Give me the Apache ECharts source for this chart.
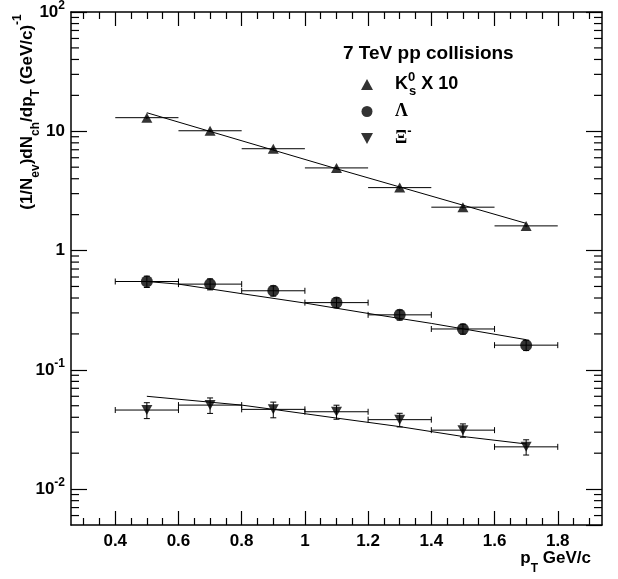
<!DOCTYPE html>
<html>
<head>
<meta charset="utf-8">
<script src="https://cdn.jsdelivr.net/npm/echarts@6/dist/echarts.min.js"></script>
<style>html,body{margin:0;padding:0;background:#fff}#c{width:618px;height:579px}</style>
</head>
<body>
<div id="c"></div>
<script>
// ---- data ----
const pT      = [0.5, 0.7, 0.9, 1.1, 1.3, 1.5, 1.7];
const pTErr   = [0.1, 0.1, 0.1, 0.1, 0.1, 0.1, 0.1];
const k0s     = [13.0, 10.1, 7.14, 4.93, 3.37, 2.31, 1.61];   // K0s x 10
const k0sErr  = [0.3, 0.25, 0.18, 0.12, 0.08, 0.06, 0.04];
const lambda    = [0.55, 0.523, 0.46, 0.366, 0.289, 0.22, 0.161];
const lambdaErr = [0.06, 0.055, 0.045, 0.035, 0.028, 0.021, 0.016];
const xi      = [0.046, 0.0506, 0.0466, 0.0445, 0.0382, 0.0312, 0.0226];
const xiErr   = [0.007, 0.0075, 0.007, 0.006, 0.005, 0.004, 0.0033];
// fit curves
const k0sFitX = [0.5, 1.1, 1.7];
const k0sFitY = [14.3, 4.85, 1.69];
const lambdaFitX = [0.5, 0.6, 0.8, 1.0, 1.2, 1.4, 1.7];
const lambdaFitY = [0.55, 0.523, 0.435, 0.363, 0.297, 0.245, 0.179];
const xiFitX = [0.5, 0.8, 0.9, 1.1, 1.3, 1.5, 1.7];
const xiFitY = [0.060, 0.0506, 0.0466, 0.0394, 0.0334, 0.0276, 0.0239];
// ticks
const xMajorTicks = [0.4, 0.6, 0.8, 1.0, 1.2, 1.4, 1.6, 1.8];
const xTickLabels = ['0.4', '0.6', '0.8', '1', '1.2', '1.4', '1.6', '1.8'];
const xMinorTicks = [0.3, 0.35, 0.45, 0.5, 0.55, 0.65, 0.7, 0.75, 0.85, 0.9, 0.95, 1.05, 1.1, 1.15,
                     1.25, 1.3, 1.35, 1.45, 1.5, 1.55, 1.65, 1.7, 1.75, 1.85, 1.9];
const yDecades = [0.01, 0.1, 1, 10, 100];
const yDecadeLabels = ['{b|10}{sup|-2}', '{b|10}{sup|-1}', '{b|1}', '{b|10}', '{b|10}{sup|2}'];
const yMinorTicks = [0.006, 0.007, 0.008, 0.009,
                     0.02, 0.03, 0.04, 0.05, 0.06, 0.07, 0.08, 0.09,
                     0.2, 0.3, 0.4, 0.5, 0.6, 0.7, 0.8, 0.9,
                     2, 3, 4, 5, 6, 7, 8, 9,
                     20, 30, 40, 50, 60, 70, 80, 90];
const X_MIN = 0.26, X_MAX = 1.94, Y_MIN = 0.005, Y_MAX = 100;

const FONT = 'Liberation Sans, Arial, Helvetica, sans-serif';
const SERIF = 'Liberation Serif, Times New Roman, serif';
const TICK = '#000';

const chart = echarts.init(document.getElementById('c'), null, {renderer: 'canvas'});

function errRender(caps) {
  return function (params, api) {
    const x = api.value(0), y = api.value(1), xe = api.value(2), ye = api.value(3);
    const l = api.coord([x - xe, y]), r = api.coord([x + xe, y]);
    const t = api.coord([x, y + ye]), b = api.coord([x, y - ye]);
    const st = {stroke: '#000', lineWidth: 1};
    const ch = [
      {type: 'line', shape: {x1: l[0], y1: l[1], x2: r[0], y2: r[1]}, style: st},
      {type: 'line', shape: {x1: t[0], y1: t[1], x2: b[0], y2: b[1]}, style: st}
    ];
    if (caps) {
      ch.push({type: 'line', shape: {x1: l[0], y1: l[1] - 3, x2: l[0], y2: l[1] + 3}, style: st});
      ch.push({type: 'line', shape: {x1: r[0], y1: r[1] - 3, x2: r[0], y2: r[1] + 3}, style: st});
      ch.push({type: 'line', shape: {x1: t[0] - 3, y1: t[1], x2: t[0] + 3, y2: t[1]}, style: st});
      ch.push({type: 'line', shape: {x1: b[0] - 3, y1: b[1], x2: b[0] + 3, y2: b[1]}, style: st});
    }
    return {type: 'group', children: ch};
  };
}
function zipErr(ys, yes) { return pT.map((x, i) => [x, ys[i], pTErr[i], yes[i]]); }
function zip(xs, ys) { return xs.map((x, i) => [x, ys[i]]); }

const legendLabels = {
  'K0s x 10': '{m|K}{sup|0}{sub|s}{m| X 10}',
  'Lambda': '{gr|Λ}',
  'Xi-': '{gr|Ξ}{sup|-}'
};

const axisLineStyle = {color: '#000', width: 1.5};
const tickStyle = {color: TICK, width: 1.2};

const option = {
  animation: false,
  backgroundColor: '#fff',
  grid: {left: 71, right: 16, top: 7.5, bottom: 54, containLabel: false},
  xAxis: [
    {type: 'value', min: X_MIN, max: X_MAX, position: 'bottom',
     axisLine: {show: true, onZero: false, lineStyle: axisLineStyle},
     axisTick: {show: true, inside: true, length: 14, customValues: xMajorTicks, lineStyle: tickStyle},
     axisLabel: {show: true, customValues: xMajorTicks, margin: 8, color: '#000',
                 fontFamily: FONT, fontWeight: 'bold', fontSize: 17,
                 formatter: v => { const i = xMajorTicks.findIndex(t => Math.abs(t - v) < 1e-6); return i >= 0 ? xTickLabels[i] : ''; }},
     splitLine: {show: false}},
    {type: 'value', min: X_MIN, max: X_MAX, position: 'bottom',
     axisLine: {show: false}, axisLabel: {show: false}, splitLine: {show: false},
     axisTick: {show: true, inside: true, length: 7, customValues: xMinorTicks, lineStyle: tickStyle}},
    {type: 'value', min: X_MIN, max: X_MAX, position: 'top',
     axisLine: {show: true, onZero: false, lineStyle: axisLineStyle}, axisLabel: {show: false}, splitLine: {show: false},
     axisTick: {show: true, inside: true, length: 14, customValues: xMajorTicks, lineStyle: tickStyle}},
    {type: 'value', min: X_MIN, max: X_MAX, position: 'top',
     axisLine: {show: false}, axisLabel: {show: false}, splitLine: {show: false},
     axisTick: {show: true, inside: true, length: 7, customValues: xMinorTicks, lineStyle: tickStyle}}
  ],
  yAxis: [
    {type: 'log', logBase: 10, min: Y_MIN, max: Y_MAX, position: 'left',
     axisLine: {show: true, onZero: false, lineStyle: axisLineStyle},
     axisTick: {show: true, inside: true, length: 16, lineStyle: tickStyle},
     axisLabel: {show: true, margin: 6, showMinLabel: false, color: '#000',
                 formatter: v => { const i = yDecades.findIndex(t => Math.abs(Math.log10(t) - Math.log10(v)) < 1e-6); return i >= 0 ? yDecadeLabels[i] : ''; },
                 rich: {
                   b: {fontFamily: FONT, fontWeight: 'bold', fontSize: 17, lineHeight: 24, verticalAlign: 'middle'},
                   sup: {fontFamily: FONT, fontWeight: 'bold', fontSize: 12, lineHeight: 12, verticalAlign: 'top'}
                 }},
     splitLine: {show: false}},
    {type: 'log', logBase: 10, min: Y_MIN, max: Y_MAX, position: 'right',
     axisLine: {show: true, onZero: false, lineStyle: axisLineStyle},
     axisTick: {show: true, inside: true, length: 16, lineStyle: tickStyle},
     axisLabel: {show: false}, splitLine: {show: false}}
  ],
  legend: {
    show: true, orient: 'vertical', left: 361, top: 71, padding: 0, itemGap: 4.5,
    itemWidth: 12, itemHeight: 11, selectedMode: false,
    data: [
      {name: 'K0s x 10', icon: 'triangle'},
      {name: 'Lambda', icon: 'circle'},
      {name: 'Xi-', icon: 'path://M0,0L10,0L5,9Z'}
    ],
    formatter: name => legendLabels[name],
    textStyle: {
      padding: [0, 0, 0, 17], color: '#000',
      rich: {
        m: {fontFamily: FONT, fontWeight: 'bold', fontSize: 18, lineHeight: 27, verticalAlign: 'middle', color: '#000'},
        gr: {fontFamily: SERIF, fontWeight: 'bold', fontSize: 18, lineHeight: 27, verticalAlign: 'middle', color: '#000'},
        sup: {fontFamily: FONT, fontWeight: 'bold', fontSize: 13, lineHeight: 11, verticalAlign: 'top', width: 1, color: '#000'},
        sub: {fontFamily: FONT, fontWeight: 'bold', fontSize: 13, lineHeight: 12, verticalAlign: 'bottom', color: '#000'}
      }
    }
  },
  graphic: [
    {type: 'text', x: 343, y: 54, silent: true,
     style: {text: '7 TeV pp collisions', fill: '#000', font: 'bold 19px ' + FONT, align: 'left', verticalAlign: 'middle'}},
    {type: 'text', x: 27, y: 112, rotation: Math.PI / 2, silent: true,
     style: {text: '{m|(1/N}{sub|ev}{m|)dN}{sub|ch}{m|/dp}{sub|T}{m| (GeV/c)}{sup|-1}',
             align: 'center', verticalAlign: 'middle', fill: '#000',
             rich: {
               m: {fontFamily: FONT, fontWeight: 'bold', fontSize: 17, lineHeight: 30, verticalAlign: 'middle'},
               sub: {fontFamily: FONT, fontWeight: 'bold', fontSize: 12, lineHeight: 13, verticalAlign: 'bottom'},
               sup: {fontFamily: FONT, fontWeight: 'bold', fontSize: 12, lineHeight: 13, verticalAlign: 'top'}
             }}},
    {type: 'text', x: 591, y: 558, silent: true,
     style: {text: '{m|p}{sub|T}{m| GeV/c}', align: 'right', verticalAlign: 'middle', fill: '#000',
             rich: {
               m: {fontFamily: FONT, fontWeight: 'bold', fontSize: 17, lineHeight: 34, verticalAlign: 'middle'},
               sub: {fontFamily: FONT, fontWeight: 'bold', fontSize: 12, lineHeight: 12, verticalAlign: 'bottom'}
             }}}
  ],
  series: [
    // y minor ticks (left and right) drawn through the y scale
    {type: 'custom', silent: true, z: 5, xAxisIndex: 0, yAxisIndex: 0,
     data: yMinorTicks.map(v => [X_MIN, v]),
     renderItem: function (params, api) {
       const v = api.value(1);
       const pl = api.coord([X_MIN, v]), pr = api.coord([X_MAX, v]);
       const st = {stroke: TICK, lineWidth: 1.2};
       return {type: 'group', children: [
         {type: 'line', shape: {x1: pl[0], y1: pl[1], x2: pl[0] + 8, y2: pl[1]}, style: st},
         {type: 'line', shape: {x1: pr[0] - 8, y1: pr[1], x2: pr[0], y2: pr[1]}, style: st}
       ]};
     }},
    // error bars
    {type: 'custom', silent: true, z: 2, renderItem: errRender(false), data: zipErr(k0s, k0sErr)},
    {type: 'custom', silent: true, z: 2, renderItem: errRender(true), data: zipErr(lambda, lambdaErr)},
    {type: 'custom', silent: true, z: 2, renderItem: errRender(true), data: zipErr(xi, xiErr)},
    // fits
    {type: 'line', silent: true, z: 3, symbol: 'none', data: zip(k0sFitX, k0sFitY), lineStyle: {color: '#000', width: 1}},
    {type: 'line', silent: true, z: 3, symbol: 'none', data: zip(lambdaFitX, lambdaFitY), lineStyle: {color: '#000', width: 1}},
    {type: 'line', silent: true, z: 3, symbol: 'none', data: zip(xiFitX, xiFitY), lineStyle: {color: '#000', width: 1}},
    // points
    {name: 'K0s x 10', type: 'scatter', z: 4, symbol: 'triangle', symbolSize: [11, 10],
     itemStyle: {color: '#000'}, data: zip(pT, k0s), emphasis: {disabled: true}},
    {name: 'Lambda', type: 'scatter', z: 4, symbol: 'circle', symbolSize: 12,
     itemStyle: {color: '#000'}, data: zip(pT, lambda), emphasis: {disabled: true}},
    {name: 'Xi-', type: 'scatter', z: 4, symbol: 'triangle', symbolRotate: 180, symbolSize: [11, 10],
     itemStyle: {color: '#000'}, data: zip(pT, xi), emphasis: {disabled: true}}
  ]
};
chart.setOption(option);
</script>
</body>
</html>
